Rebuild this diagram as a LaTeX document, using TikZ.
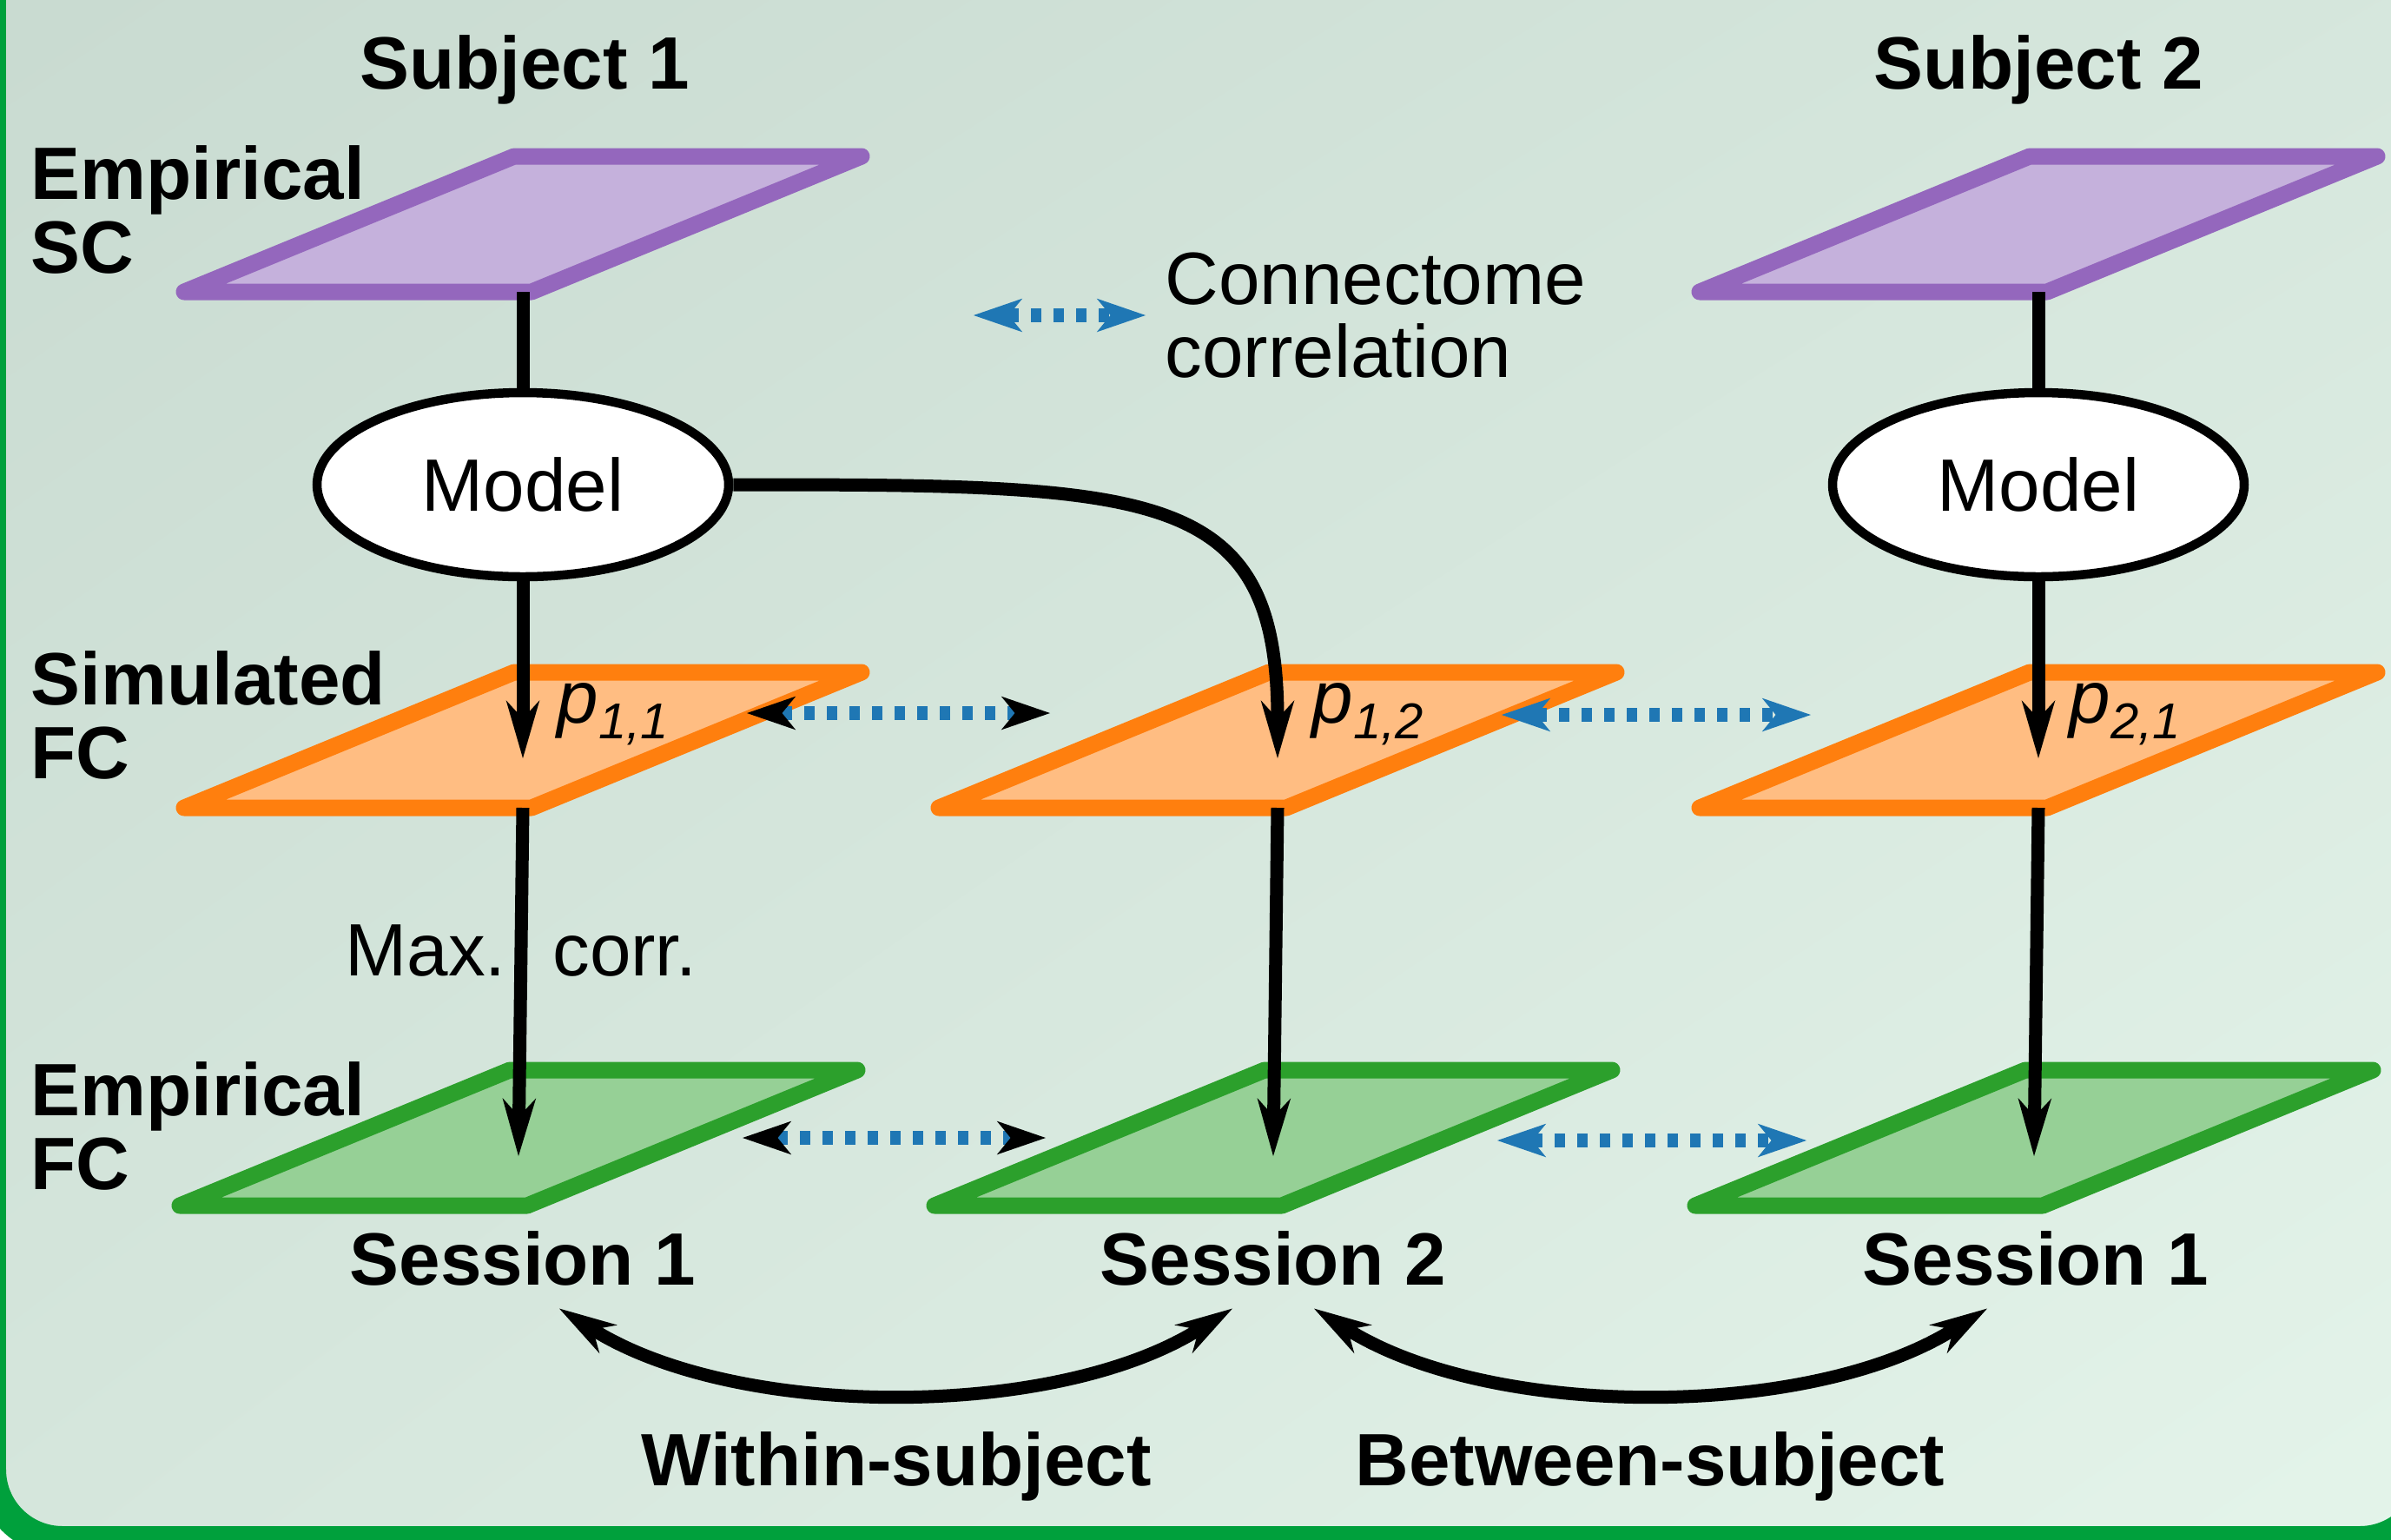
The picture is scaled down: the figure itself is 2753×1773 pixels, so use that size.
\documentclass[tikz,border=0pt]{standalone}
\usepackage{fontspec}
\setmainfont{Liberation Sans}
\usetikzlibrary{
  arrows.meta,
  shapes.geometric,
  shadings,
  positioning,
  calc
}
\definecolor{bgA}{RGB}{200,218,208}
\definecolor{bgB}{RGB}{213,230,220}
\definecolor{bgC}{RGB}{228,244,234}
\definecolor{framegreen}{RGB}{0,160,60}
\definecolor{scedge}{RGB}{148,103,189}
\definecolor{scfill}{RGB}{197,177,220}
\definecolor{simedge}{RGB}{255,127,14}
\definecolor{simfill}{RGB}{255,189,130}
\definecolor{empedge}{RGB}{44,160,44}
\definecolor{empfill}{RGB}{150,208,150}
\definecolor{corrblue}{RGB}{31,119,180}
\newcommand\figfont{\fontsize{24.3}{24}\selectfont}
\newcommand\pidx[1]{\textit{p}\raisebox{-5.4pt}{\fontsize{16.5}{16.5}\selectfont\itshape #1}}
\tikzset{
  % Strelka uchlari
  blkhead/.tip = {Stealth[length=19pt, width=11pt, inset=6pt, line width=0pt, color=black]},
  dothead/.tip = {Stealth[length=16pt, width=11pt, inset=4.5pt, line width=0pt, color=black]},
  bluhead/.tip = {Stealth[length=16pt, width=11pt, inset=4.5pt, line width=0pt, color=corrblue]},
  % Tekislik (parallelogramm)
  plane/.pic = {
    \draw[pic actions] (-10,78) -- (390,78) -- (10,-78) -- (-390,-78) -- cycle;
    \coordinate (-c) at (0,0);
    \coordinate (-a) at (0,-21);
    \coordinate (-b) at (0,-78);
    \coordinate (-l) at (-262,0);
    \coordinate (-r) at (258,0);
  },
  scplane/.style  = {draw=scedge,  fill=scfill,  line width=1.9mm, line join=round},
  simplane/.style = {draw=simedge, fill=simfill, line width=1.9mm, line join=round},
  empplane/.style = {draw=empedge, fill=empfill, line width=1.9mm, line join=round},
  % Model
  modelnode/.style = {ellipse, draw=black, fill=white, line width=1.05mm,
                      minimum width=47.4mm, minimum height=21.2mm, inner sep=0pt, font=\figfont},
  % Chiziqlar
  flowline/.style   = {line width=1.5mm},
  flowarrow/.style  = {line width=1.5mm, -{blkhead}},
  curvearrow/.style = {line width=1.5mm, {blkhead}-{blkhead}},
  corrarrow/.style  = {corrblue, line width=1.6mm, dash pattern=on 1.2mm off 1.4mm},
  % Etiketlar
  headlabel/.style = {anchor=base, font=\figfont\bfseries, inner sep=0pt},
  rowlabel/.style  = {anchor=base west, align=left, font=\figfont\bfseries, inner sep=0pt},
  legtext/.style   = {align=left, font=\figfont, inner sep=0pt},
  plabel/.style    = {anchor=base west, font=\figfont, inner sep=0pt},
  maxlabel/.style  = {font=\figfont, inner sep=0pt, pos=0.41},
}
\begin{document}
\begin{tikzpicture}[x=0.1mm, y=0.1mm]
  \useasboundingbox (0,0) rectangle (2753,-1773);
  % Fon va ramka
  \fill[white] (0,0) rectangle (2753,-1773);
  \shade[upper left=bgA, upper right=bgB, lower left=bgB, lower right=bgC,
         rounded corners=8.2mm] (-10,100) rectangle (2799,-1774);
  \draw[framegreen, line width=3.4mm, rounded corners=8.2mm] (-10,100) rectangle (2799,-1774);
  % Tekisliklar
  \pic[scplane] (sc1) at (602,-258) {plane};
  \pic[scplane] (sc2) at (2347,-258) {plane};
  \pic[simplane] (sim1) at (602,-852) {plane};
  \pic[simplane] (sim2) at (1471,-852) {plane};
  \pic[simplane] (sim3) at (2347,-852) {plane};
  \pic[empplane] (emp1) at (597,-1310) {plane};
  \pic[empplane] (emp2) at (1466,-1310) {plane};
  \pic[empplane] (emp3) at (2342,-1310) {plane};
  % Model ellipslari
  \node[modelnode] (m1) at (602,-558) {Model};
  \node[modelnode] (m2) at (2347,-558) {Model};
  % Oqim strelkalari
  \draw[flowline] (sc1-b) -- (m1.north);
  \draw[flowline] (sc2-b) -- (m2.north);
  \draw[flowarrow] (m1.south) -- (sim1-a);
  \draw[flowarrow] (m2.south) -- (sim3-a);
  \draw[flowarrow] (m1.east) .. controls +(485,0) and +(0,313) .. (sim2-a);
  \draw[flowarrow] (sim1-b) -- node[maxlabel] {Max.\hspace{0.63em}corr.} (emp1-a);
  \draw[flowarrow] (sim2-b) -- (emp2-a);
  \draw[flowarrow] (sim3-b) -- (emp3-a);
  % Korrelyatsiya strelkalari
  \draw[corrarrow, {dothead}-{dothead}] ([yshift=3.1mm]sim1-r) -- ([yshift=3.1mm]sim2-l);
  \draw[corrarrow, {bluhead}-{bluhead}] ([yshift=2.9mm]sim2-r) -- ([yshift=2.9mm]sim3-l);
  \draw[corrarrow, {dothead}-{dothead}] (emp1-r) -- (emp2-l);
  \draw[corrarrow, {bluhead}-{bluhead}] ([yshift=-0.3mm]emp2-r) -- ([yshift=-0.3mm]emp3-l);
  % Legenda
  \coordinate (legA) at (1121,-363);
  \coordinate (legB) at (1319,-363);
  \draw[corrarrow, {bluhead}-{bluhead}] (legA) -- (legB);
  \node[legtext, right=2.2mm of legB] (leg) {Connectome\\correlation};
  % p yorliqlari
  \node[plabel] (p11) at ($(sim1-c)+(39,20)$) {\pidx{1,1}};
  \node[plabel] (p12) at ($(sim2-c)+(39,20)$) {\pidx{1,2}};
  \node[plabel] (p21) at ($(sim3-c)+(35,20)$) {\pidx{2,1}};
  % Sarlavhalar
  \node[headlabel] (subj1) at (604,-102) {Subject 1};
  \node[headlabel] (subj2) at (2347,-102) {Subject 2};
  \node[rowlabel] (lsc) at (35,-314) {Empirical\\SC};
  \node[rowlabel] (lsim) at (35,-896) {Simulated\\FC};
  \node[rowlabel] (lemp) at (35,-1369) {Empirical\\FC};
  % Sessiyalar
  \node[headlabel] (ses1) at (602,-1479) {Session 1};
  \node[headlabel] (ses2) at (1466,-1479) {Session 2};
  \node[headlabel] (ses3) at (2344,-1479) {Session 1};
  \draw[curvearrow] ($(ses1.south)+(42,-26)$) to[out=-32, in=-148, looseness=0.8] ($(ses2.south)+(-47,-26)$);
  \draw[curvearrow] ($(ses2.south)+(47,-26)$) to[out=-32, in=-148, looseness=0.8] ($(ses3.south)+(-56,-26)$);
  \node[headlabel] (within) at (1032,-1710) {Within-subject};
  \node[headlabel] (between) at (1900,-1710) {Between-subject};
\end{tikzpicture}
\end{document}
